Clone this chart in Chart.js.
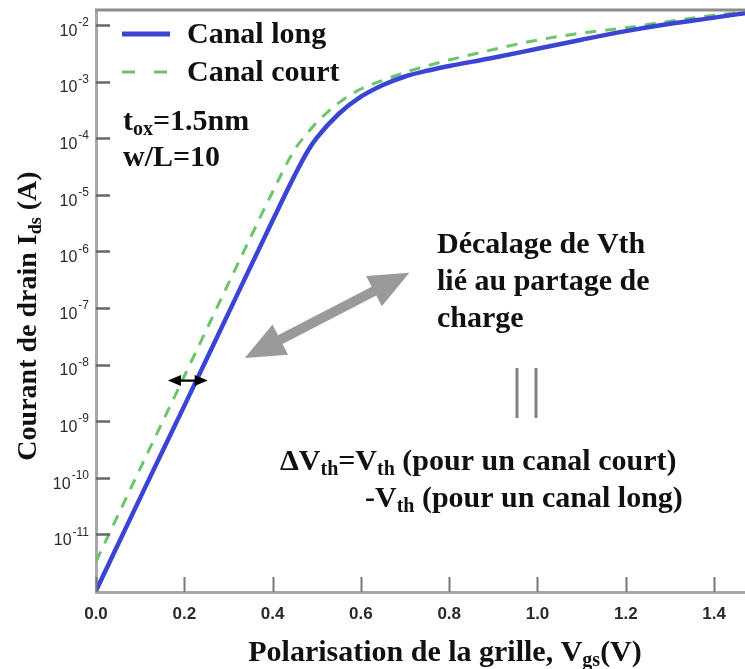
<!DOCTYPE html>
<html>
<head>
<meta charset="utf-8">
<title>Id-Vg canal long / canal court</title>
<script src="https://cdn.jsdelivr.net/npm/chart.js@4.4.1/dist/chart.umd.min.js"></script>
<style>
    html, body { margin: 0; padding: 0; background: #fff; }
    #wrap { width: 745px; height: 669px; }
</style>
</head>
<body>
<div id="wrap"><canvas id="chart" width="745" height="669"></canvas></div>
<script>
// Vgs (V)
const gateVoltage = [0, 0.1, 0.2, 0.3, 0.4, 0.45, 0.48, 0.5, 0.55, 0.6, 0.65, 0.7, 0.75, 0.8, 0.9, 1.0, 1.1, 1.2, 1.3, 1.4, 1.47];
// Ids (A), canal long
const longChannel = [1.0e-12, 4.4e-11, 1.86e-9, 8.1e-8, 3.5e-6, 2.2e-5, 6.0e-5, 1.01e-4, 2.7e-4, 5.4e-4, 8.7e-4, 1.23e-3, 1.55e-3, 1.88e-3, 2.63e-3, 3.8e-3, 5.5e-3, 7.8e-3, 1.05e-2, 1.35e-2, 1.62e-2];
// Ids (A), canal court
const shortChannel = [3.3e-12, 1.45e-10, 6.2e-9, 2.7e-7, 1.12e-5, 6.3e-5, 1.26e-4, 1.9e-4, 4.2e-4, 7.4e-4, 1.05e-3, 1.45e-3, 1.9e-3, 2.4e-3, 3.7e-3, 5.4e-3, 7.2e-3, 8.9e-3, 1.17e-2, 1.48e-2, 1.7e-2];

const voltTicks = [0, 0.2, 0.4, 0.6, 0.8, 1.0, 1.2, 1.4];
const decadeTicks = [-11, -10, -9, -8, -7, -6, -5, -4, -3, -2];

const BLUE = '#3b45d3';
const GREEN = '#6cc46c';

const serif = (size) => `bold ${size}px "Liberation Serif", "Times New Roman", serif`;

// text made of parts: [text, 'sub'] gets a smaller, lowered font
function richWidth(ctx, parts, size) {
    let w = 0;
    parts.forEach(p => {
        ctx.font = serif(p[1] ? Math.round(size * 0.66) : size);
        w += ctx.measureText(p[0]).width;
    });
    return w;
}

function drawRich(ctx, parts, x, y, size, align) {
    let w = richWidth(ctx, parts, size);
    let cx = align === 'center' ? x - w / 2 : x;
    ctx.textAlign = 'left';
    ctx.textBaseline = 'alphabetic';
    parts.forEach(p => {
        ctx.font = serif(p[1] ? Math.round(size * 0.66) : size);
        ctx.fillText(p[0], cx, y + (p[1] ? size * 0.18 : 0));
        cx += ctx.measureText(p[0]).width;
    });
}

function fatArrow(ctx, x1, y1, x2, y2, shaft, headLen, headW) {
    let dx = x2 - x1, dy = y2 - y1;
    let len = Math.hypot(dx, dy);
    let ux = dx / len, uy = dy / len;
    let nx = -uy, ny = ux;
    const pt = (s, n) => [x1 + ux * s + nx * n, y1 + uy * s + ny * n];
    let pts = [
        pt(0, 0), pt(headLen, headW), pt(headLen, shaft),
        pt(len - headLen, shaft), pt(len - headLen, headW), pt(len, 0),
        pt(len - headLen, -headW), pt(len - headLen, -shaft),
        pt(headLen, -shaft), pt(headLen, -headW)
    ];
    ctx.beginPath();
    pts.forEach((p, i) => i ? ctx.lineTo(p[0], p[1]) : ctx.moveTo(p[0], p[1]));
    ctx.closePath();
    ctx.fill();
}

const decorations = {
    id: 'decorations',
    afterDraw(chart) {
        const ctx = chart.ctx;
        const area = chart.chartArea;
        const xs = chart.scales.x, ys = chart.scales.y;
        ctx.save();

        // top frame
        ctx.strokeStyle = '#8c8c8c';
        ctx.lineWidth = 3;
        ctx.beginPath();
        ctx.moveTo(area.left - 1, area.top);
        ctx.lineTo(area.right, area.top);
        ctx.stroke();

        // inward tick marks
        ctx.strokeStyle = '#666';
        ctx.lineWidth = 2.5;
        decadeTicks.forEach(e => {
            let y = Math.round(ys.getPixelForValue(Math.pow(10, e))) + 0.5;
            ctx.beginPath();
            ctx.moveTo(area.left, y);
            ctx.lineTo(area.left + 14, y);
            ctx.stroke();
        });
        ctx.strokeStyle = '#777';
        ctx.lineWidth = 2;
        voltTicks.forEach(v => {
            let x = Math.round(xs.getPixelForValue(v)) + 0.5;
            ctx.beginPath();
            ctx.moveTo(x, area.bottom);
            ctx.lineTo(x, area.bottom - 15);
            ctx.stroke();
        });

        // y tick labels: 10 with exponent
        ctx.fillStyle = '#2a2a2a';
        ctx.textBaseline = 'middle';
        ctx.textAlign = 'left';
        decadeTicks.forEach(e => {
            let y = ys.getPixelForValue(Math.pow(10, e));
            let exp = String(e);
            ctx.font = '16px "Liberation Sans", Arial, sans-serif';
            let w10 = ctx.measureText('10').width;
            ctx.font = '12px "Liberation Sans", Arial, sans-serif';
            let wExp = ctx.measureText(exp).width;
            let x0 = 88 - w10 - wExp;
            ctx.font = '16px "Liberation Sans", Arial, sans-serif';
            ctx.fillText('10', x0, y + 6.5);
            ctx.font = '12px "Liberation Sans", Arial, sans-serif';
            ctx.fillText(exp, x0 + w10 + 1, y - 2);
        });

        // x tick labels
        ctx.font = 'bold 17px "Liberation Sans", Arial, sans-serif';
        ctx.textAlign = 'center';
        voltTicks.forEach(v => {
            ctx.fillText(v.toFixed(1), xs.getPixelForValue(v), 614);
        });

        // axis titles
        ctx.fillStyle = '#111';
        drawRich(ctx, [['Polarisation de la grille, V'], ['gs', 'sub'], ['(V)']], 445, 661, 30, 'center');
        ctx.save();
        ctx.translate(36, 316);
        ctx.rotate(-Math.PI / 2);
        drawRich(ctx, [['Courant de drain I'], ['ds', 'sub'], [' (A)']], 0, 0, 28, 'center');
        ctx.restore();

        // legend
        ctx.lineWidth = 5;
        ctx.strokeStyle = BLUE;
        ctx.beginPath();
        ctx.moveTo(122, 34);
        ctx.lineTo(170, 34);
        ctx.stroke();
        ctx.lineWidth = 3;
        ctx.strokeStyle = GREEN;
        ctx.setLineDash([13, 19]);
        ctx.beginPath();
        ctx.moveTo(122, 72);
        ctx.lineTo(170, 72);
        ctx.stroke();
        ctx.setLineDash([]);
        drawRich(ctx, [['Canal long']], 187, 43, 30, 'left');
        drawRich(ctx, [['Canal court']], 187, 81, 30, 'left');

        drawRich(ctx, [['t'], ['ox', 'sub'], ['=1.5nm']], 123, 130, 30, 'left');
        drawRich(ctx, [['w/L=10']], 123, 166, 30, 'left');

        // Vth shift arrow
        ctx.fillStyle = '#9a9a9a';
        fatArrow(ctx,
            xs.getPixelForValue(0.337), ys.getPixelForValue(1.3e-8),
            xs.getPixelForValue(0.71), ys.getPixelForValue(4.2e-7),
            5, 40, 17);

        // small arrow across both curves
        ctx.fillStyle = '#000';
        fatArrow(ctx,
            xs.getPixelForValue(0.163), ys.getPixelForValue(5.2e-9),
            xs.getPixelForValue(0.253), ys.getPixelForValue(5.2e-9),
            1.2, 13, 5.5);

        ctx.fillStyle = '#111';
        drawRich(ctx, [['Décalage de Vth']], 437, 253, 30, 'left');
        drawRich(ctx, [['lié au partage de']], 437, 290, 30, 'left');
        drawRich(ctx, [['charge']], 437, 327, 30, 'left');

        // equality bars
        ctx.strokeStyle = '#808080';
        ctx.lineWidth = 3;
        [517, 536].forEach(x => {
            ctx.beginPath();
            ctx.moveTo(x, 368);
            ctx.lineTo(x, 418);
            ctx.stroke();
        });

        drawRich(ctx, [['\u0394V'], ['th', 'sub'], ['=V'], ['th', 'sub'], [' (pour un canal court)']], 280, 470, 30, 'left');
        drawRich(ctx, [['-V'], ['th', 'sub'], [' (pour un canal long)']], 365, 507, 30, 'left');

        ctx.restore();
    }
};

const toPoints = (values) => gateVoltage.map((v, i) => ({x: v, y: values[i]}));

new Chart(document.getElementById('chart'), {
    type: 'line',
    data: {
        datasets: [{
            label: 'Canal long',
            data: toPoints(longChannel),
            borderColor: BLUE,
            borderWidth: 4.5,
            cubicInterpolationMode: 'monotone',
            pointRadius: 0
        }, {
            label: 'Canal court',
            data: toPoints(shortChannel),
            borderColor: GREEN,
            borderWidth: 3,
            borderDash: [11, 9],
            cubicInterpolationMode: 'monotone',
            pointRadius: 0
        }]
    },
    options: {
        responsive: false,
        animation: false,
        devicePixelRatio: 1,
        layout: {padding: {top: 10, right: 0, bottom: 0, left: 0}},
        plugins: {
            legend: {display: false},
            tooltip: {enabled: false}
        },
        scales: {
            x: {
                type: 'linear',
                min: 0,
                max: 1.47,
                afterBuildTicks: s => { s.ticks = voltTicks.map(v => ({value: v})); },
                afterFit: s => { s.height = 77; },
                ticks: {display: false},
                grid: {display: false, drawTicks: false},
                border: {display: true, color: '#a8a8a8', width: 3}
            },
            y: {
                type: 'logarithmic',
                min: Math.pow(10, -12.02),
                max: Math.pow(10, -1.735),
                afterBuildTicks: s => { s.ticks = decadeTicks.map(e => ({value: Math.pow(10, e)})); },
                afterFit: s => { s.width = 96; },
                ticks: {display: false},
                grid: {display: false, drawTicks: false},
                border: {display: true, color: '#a8a8a8', width: 3}
            }
        }
    },
    plugins: [decorations]
});
</script>
</body>
</html>
